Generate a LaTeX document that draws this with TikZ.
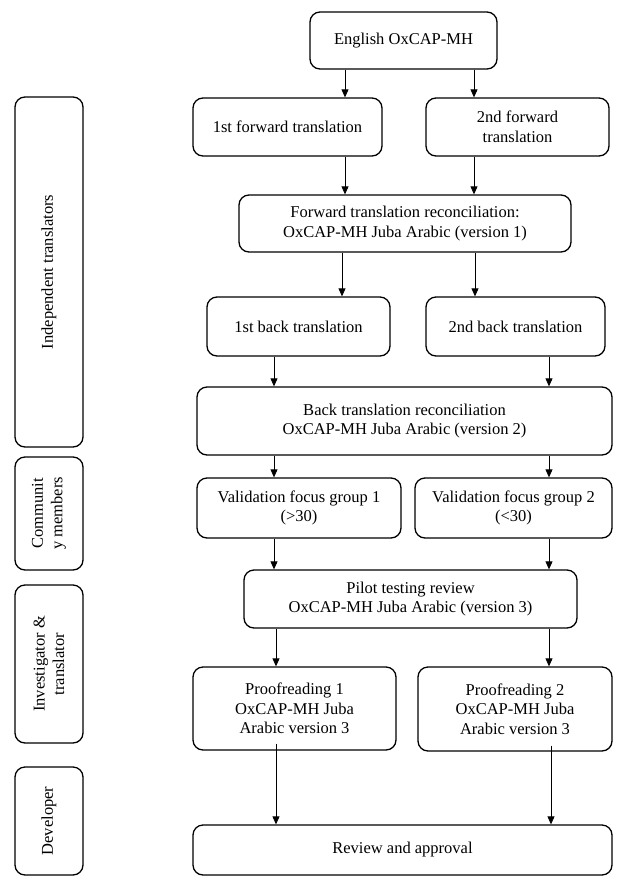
\documentclass[tikz,border=0pt]{standalone}
\usepackage{fontspec}
\setmainfont{Liberation Serif}
\usetikzlibrary{arrows.meta}
\begin{document}
\begin{tikzpicture}[x=1pt,y=-1pt,
  box/.style={draw,line width=1.3pt,rounded corners=10pt,align=center,inner sep=0pt,
    font=\fontsize{16.5}{19.5}\selectfont},
  side/.style={box,minimum width=68pt,rotate=90},
  arr/.style={-{Triangle[length=8pt,width=7pt]},line width=0.8pt}]
\useasboundingbox (0,0) rectangle (632,876);
% main boxes
\node[box,minimum width=187pt,minimum height=57pt] (E) at (403.5,40.5) {English OxCAP-MH};
\node[box,minimum width=189pt,minimum height=58pt] (F1) at (287.5,127) {1st forward translation};
\node[box,minimum width=183pt,minimum height=58pt] (F2) at (517.5,127) {2nd forward\\translation};
\node[box,minimum width=332pt,minimum height=57pt] (FR) at (405,223.5) {Forward translation reconciliation:\\OxCAP-MH Juba Arabic (version 1)};
\node[box,minimum width=183pt,minimum height=59pt] (B1) at (298.5,326.5) {1st back translation};
\node[box,minimum width=179pt,minimum height=59pt] (B2) at (515.5,326.5) {2nd back translation};
\node[box,minimum width=415pt,minimum height=68pt] (BR) at (404.5,421) {Back translation reconciliation\\OxCAP-MH Juba Arabic (version 2)};
\node[box,minimum width=204pt,minimum height=60pt] (V1) at (299,508) {Validation focus group 1\\(>30)};
\node[box,minimum width=197pt,minimum height=60pt] (V2) at (513.5,508) {Validation focus group 2\\(<30)};
\node[box,minimum width=333pt,minimum height=58pt] (PT) at (410.5,599) {Pilot testing review\\OxCAP-MH Juba Arabic (version 3)};
\node[box,minimum width=203pt,minimum height=83pt] (P1) at (294.5,708.5) {Proofreading 1\\OxCAP-MH Juba\\Arabic version 3};
\node[box,minimum width=194pt,minimum height=84pt] (P2) at (515,709) {Proofreading 2\\OxCAP-MH Juba\\Arabic version 3};
\node[box,minimum width=419pt,minimum height=50pt] (RA) at (402.5,850) {Review and approval};
% side boxes (rotated: minimum width is the vertical extent)
\node[side,minimum width=350pt,minimum height=68pt] (IT) at (49,272) {Independent translators};
\node[side,minimum width=113pt,minimum height=68pt] (CM) at (49,513.5) {Communit\\y members};
\node[side,minimum width=158pt,minimum height=68pt] (IG) at (49,664) {Investigator \&\\translator};
\node[side,minimum width=108pt,minimum height=68pt] (DV) at (49,821) {Developer};
% arrows
\draw[arr] (E.south -| 345,0) -- (F1.north -| 345,0);
\draw[arr] (E.south -| 474,0) -- (F2.north -| 474,0);
\draw[arr] (F1.south -| 345,0) -- (FR.north -| 345,0);
\draw[arr] (F2.south -| 474,0) -- (FR.north -| 474,0);
\draw[arr] (FR.south -| 342,0) -- (B1.north -| 342,0);
\draw[arr] (FR.south -| 475,0) -- (B2.north -| 475,0);
\draw[arr] (B1.south -| 274,0) -- (BR.north -| 274,0);
\draw[arr] (B2.south -| 549,0) -- (BR.north -| 549,0);
\draw[arr] (BR.south -| 274,0) -- (V1.north -| 274,0);
\draw[arr] (BR.south -| 549,0) -- (V2.north -| 549,0);
\draw[arr] (V1.south -| 274,0) -- (PT.north -| 274,0);
\draw[arr] (V2.south -| 549,0) -- (PT.north -| 549,0);
\draw[arr] (PT.south -| 276,0) -- (P1.north -| 276,0);
\draw[arr] (PT.south -| 549,0) -- (P2.north -| 549,0);
\draw[arr] ([yshift=7pt]P1.south -| 276,0) -- (RA.north -| 276,0);
\draw[arr] ([yshift=6pt]P2.south -| 551,0) -- (RA.north -| 551,0);
\end{tikzpicture}
\end{document}
